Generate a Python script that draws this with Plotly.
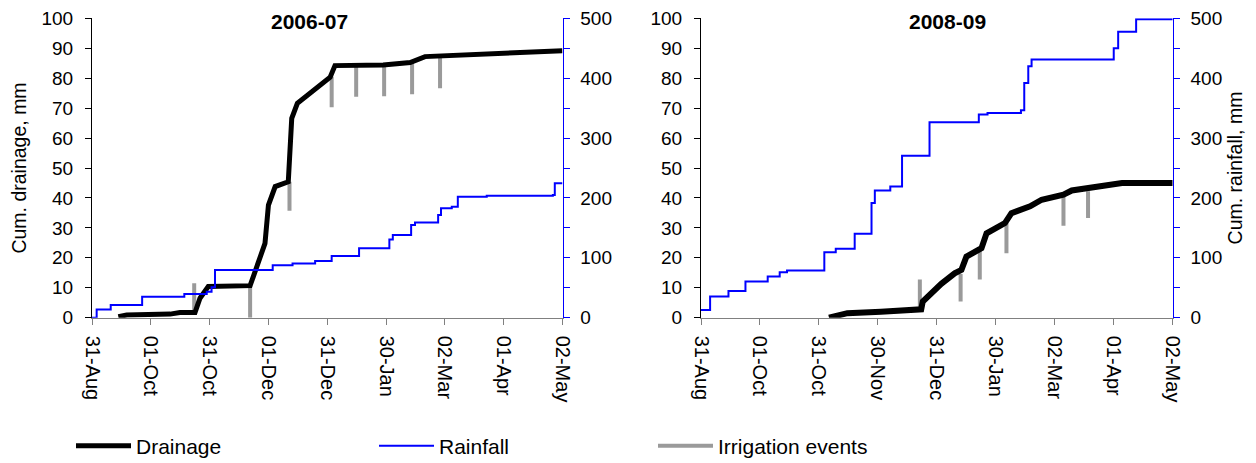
import plotly.graph_objects as go
import pandas as pd

# ---------------- data: 2006-07 ----------------
drain06_dates = ["2006-09-13 16:00", "2006-09-18", "2006-10-10 12:00", "2006-10-15 14:00",
                 "2006-10-23 10:00", "2006-10-26", "2006-10-30 07:00", "2006-11-21",
                 "2006-11-28 17:00", "2006-11-30 12:00", "2006-12-04", "2006-12-10 19:00",
                 "2006-12-12 14:00", "2006-12-15 12:00", "2007-01-01 12:00", "2007-01-04",
                 "2007-01-29", "2007-02-12", "2007-02-19 17:00", "2007-05-02"]
drain06_mm = [0.3, 0.9, 1.2, 1.7, 1.7, 6.5, 10.4, 10.7, 24.8, 37.6, 43.8, 45.4,
              66.6, 71.6, 80.3, 84.2, 84.4, 85.2, 87.2, 89.2]

rain06_dates = ["2006-08-31", "2006-09-02 10:00", "2006-09-09 17:00", "2006-09-26",
                "2006-10-17 21:00", "2006-10-29 12:00", "2006-11-01", "2006-11-02 19:00",
                "2006-12-02 17:00", "2006-12-13", "2006-12-24 17:00", "2007-01-02 07:00",
                "2007-01-16 12:00", "2007-02-01 05:00", "2007-02-03", "2007-02-12 12:00",
                "2007-02-14 12:00", "2007-02-26 12:00", "2007-02-28", "2007-03-05 14:00",
                "2007-03-08 17:00", "2007-03-23 17:00", "2007-04-27", "2007-04-28",
                "2007-05-02"]
rain06_mm = [0, 13.9, 21.2, 35, 39.5, 43.4, 50.7, 79.6, 87.4, 90.7, 94.7, 103, 115.8,
             130.8, 138, 154.8, 159, 171.5, 182.6, 185.4, 202, 203.5, 205, 224.4, 224.4]

irr06_dates = ["2006-10-23", "2006-11-21", "2006-12-11 10:00", "2007-01-02 07:00",
               "2007-01-15", "2007-01-29 12:00", "2007-02-13", "2007-02-27 12:00"]
irr06_top = [11.5, 10.7, 45.4, 80.5, 84.1, 84.3, 85.4, 87.0]
irr06_bottom = [1.5, 0.0, 35.7, 70.3, 73.8, 74.0, 74.6, 76.6]

# ---------------- data: 2008-09 ----------------
drain08_dates = ["2008-11-05 05:00", "2008-11-14 17:00", "2008-12-02 02:00", "2008-12-22 22:00",
                 "2008-12-23 17:00", "2008-12-26 07:00", "2009-01-02 07:00", "2009-01-09 05:00",
                 "2009-01-12 17:00", "2009-01-15 07:00", "2009-01-23 02:00", "2009-01-25 17:00",
                 "2009-02-04 05:00", "2009-02-07 14:00", "2009-02-17 05:00", "2009-02-23 05:00",
                 "2009-03-06 12:00", "2009-03-10 19:00", "2009-03-24 17:00", "2009-04-05 19:00",
                 "2009-05-02"]
drain08_mm = [0, 1.5, 2.0, 2.8, 5.4, 7.0, 11.3, 14.8, 16.0, 20.4, 23.2, 28.2, 31.6, 34.9,
              37.2, 39.4, 41.1, 42.5, 44.1, 45.0, 45.0]

rain08_dates = ["2008-08-31", "2008-09-04 17:00", "2008-09-14 05:00", "2008-09-23",
                "2008-10-04 12:00", "2008-10-10 17:00", "2008-10-14 12:00", "2008-11-02 19:00",
                "2008-11-08 17:00", "2008-11-18 12:00", "2008-11-27 05:00", "2008-11-28 22:00",
                "2008-12-06 22:00", "2008-12-13", "2008-12-27 05:00", "2009-01-21 17:00",
                "2009-01-26 05:00", "2009-02-12 12:00", "2009-02-14 05:00", "2009-02-16 07:00",
                "2009-02-18", "2009-04-01 12:00", "2009-04-03 19:00", "2009-04-13 02:00",
                "2009-05-02"]
rain08_mm = [12.8, 35.2, 44.6, 60.3, 68.6, 75.9, 78.7, 109.4, 115, 140, 191.4, 212.6,
             219.3, 270.6, 326.4, 339.3, 342, 346.5, 392, 420, 431.3, 450, 477.6, 498.3, 498.3]

irr08_dates = ["2008-12-22 05:00", "2009-01-12 07:00", "2009-01-22 05:00", "2009-02-05",
               "2009-03-06 12:00", "2009-03-19 05:00"]
irr08_top = [12.8, 14.6, 22.4, 31.6, 40.5, 42.2]
irr08_bottom = [3.1, 5.4, 12.8, 21.5, 30.7, 33.3]

# ---------------- axes text ----------------
season_starts = ["2006-08-31", "2008-08-31"]
season_ends = ["2007-05-02", "2009-05-02"]
ticktext06 = ["31-Aug", "01-Oct", "31-Oct", "01-Dec", "31-Dec", "30-Jan", "02-Mar", "01-Apr", "02-May"]
ticktext08 = ["31-Aug", "01-Oct", "31-Oct", "30-Nov", "31-Dec", "30-Jan", "02-Mar", "01-Apr", "02-May"]
titles = ["2006-07", "2008-09"]

FONT = "Liberation Sans, Arial, Helvetica, sans-serif"
GRAY = "#9a9a9a"


def tickvals(start):
    s = pd.Timestamp(start)
    return [(s + pd.Timedelta(days=30.5 * k)).strftime("%Y-%m-%d %H:%M") for k in range(9)]


def seg(dates, bottom, top):
    xs, ys = [], []
    for d, b, t in zip(dates, bottom, top):
        xs += [d, d, None]
        ys += [b, t, None]
    return xs, ys


fig = go.Figure()

panels = [
    dict(x="x", y="y", y2="y2", drain=(drain06_dates, drain06_mm), rain=(rain06_dates, rain06_mm),
         irr=(irr06_dates, irr06_bottom, irr06_top), dw=5, legend=True),
    dict(x="x2", y="y3", y2="y4", drain=(drain08_dates, drain08_mm), rain=(rain08_dates, rain08_mm),
         irr=(irr08_dates, irr08_bottom, irr08_top), dw=6, legend=False),
]

for p in panels:
    ix, iy = seg(*p["irr"])
    fig.add_trace(go.Scatter(x=ix, y=iy, xaxis=p["x"], yaxis=p["y"], mode="lines",
                             line=dict(color=GRAY, width=4), name="Irrigation events",
                             showlegend=p["legend"], legend="legend3", connectgaps=False))
    fig.add_trace(go.Scatter(x=p["rain"][0], y=p["rain"][1], xaxis=p["x"], yaxis=p["y2"],
                             mode="lines", line=dict(color="#0000ff", width=2, shape="hv"),
                             name="Rainfall", showlegend=p["legend"], legend="legend2"))
    fig.add_trace(go.Scatter(x=p["drain"][0], y=p["drain"][1], xaxis=p["x"], yaxis=p["y"],
                             mode="lines", line=dict(color="black", width=p["dw"]),
                             name="Drainage", showlegend=p["legend"], legend="legend"))

# The page body has an 8px margin, so the figure is sized to fill the rest of the window
OFF = 8
W, H = 1256 - OFF, 463 - OFF


def px_x(px):
    return (px - OFF) / W


def px_y(py):
    return (H - (py - OFF)) / H


ydom = [px_y(317.7), px_y(18.3)]

xcommon = dict(type="date", tickangle=90, ticks="outside", ticklen=6, tickcolor="#808080",
               showline=True, linecolor="#808080", linewidth=1, showgrid=False, zeroline=False,
               tickfont=dict(size=20), fixedrange=True, automargin=False, ticklabelstandoff=7,
               ticklabeloverflow="allow")
yleft = dict(range=[0, 100], dtick=10, ticks="outside", ticklen=6, tickcolor="black",
             showline=True, linecolor="black", linewidth=1, showgrid=False, zeroline=False,
             domain=ydom, tickfont=dict(size=19), automargin=False, ticklabelstandoff=8,
             ticklabeloverflow="allow")
yright = dict(range=[0, 500], dtick=100, ticks="outside", ticklen=6, tickcolor="#0000ff",
              showline=True, linecolor="#0000ff", linewidth=1, showgrid=False, zeroline=False,
              side="right", tickfont=dict(size=19), automargin=False, ticklabelstandoff=7,
              ticklabeloverflow="allow",
              minor=dict(dtick=50, ticks="outside", ticklen=6, tickcolor="#0000ff"))

legcommon = dict(orientation="h", y=px_y(446), xanchor="left", yanchor="middle",
                 font=dict(size=21), itemwidth=55, bgcolor="rgba(0,0,0,0)")

fig.update_layout(
    width=W, height=H, margin=dict(l=0, r=0, t=0, b=0, autoexpand=False),
    paper_bgcolor="white", plot_bgcolor="white",
    font=dict(family=FONT, size=20, color="black"),
    xaxis=dict(xcommon, domain=[px_x(92), px_x(562.5)], anchor="y",
               range=[season_starts[0], season_ends[0]],
               tickvals=tickvals(season_starts[0]), ticktext=ticktext06),
    xaxis2=dict(xcommon, domain=[px_x(701), px_x(1172.7)], anchor="y3",
                range=[season_starts[1], season_ends[1]],
                tickvals=tickvals(season_starts[1]), ticktext=ticktext08),
    yaxis=dict(yleft, anchor="x", title=dict(text="Cum. drainage, mm", standoff=15,
                                             font=dict(size=19.5))),
    yaxis2=dict(yright, anchor="x", overlaying="y"),
    yaxis3=dict(yleft, anchor="x2"),
    yaxis4=dict(yright, anchor="x2", overlaying="y3",
                title=dict(text="Cum. rainfall, mm", standoff=7, font=dict(size=19.5))),
    legend=dict(legcommon, x=px_x(71)),
    legend2=dict(legcommon, x=px_x(374)),
    legend3=dict(legcommon, x=px_x(653)),
    showlegend=True,
)

for t, cx in zip(titles, [309.5, 947]):
    fig.add_annotation(text="<b>%s</b>" % t, x=px_x(cx), y=px_y(21), xref="paper", yref="paper",
                       showarrow=False, font=dict(size=21, family=FONT), xanchor="center",
                       yanchor="middle")

fig.write_html("out.html")
